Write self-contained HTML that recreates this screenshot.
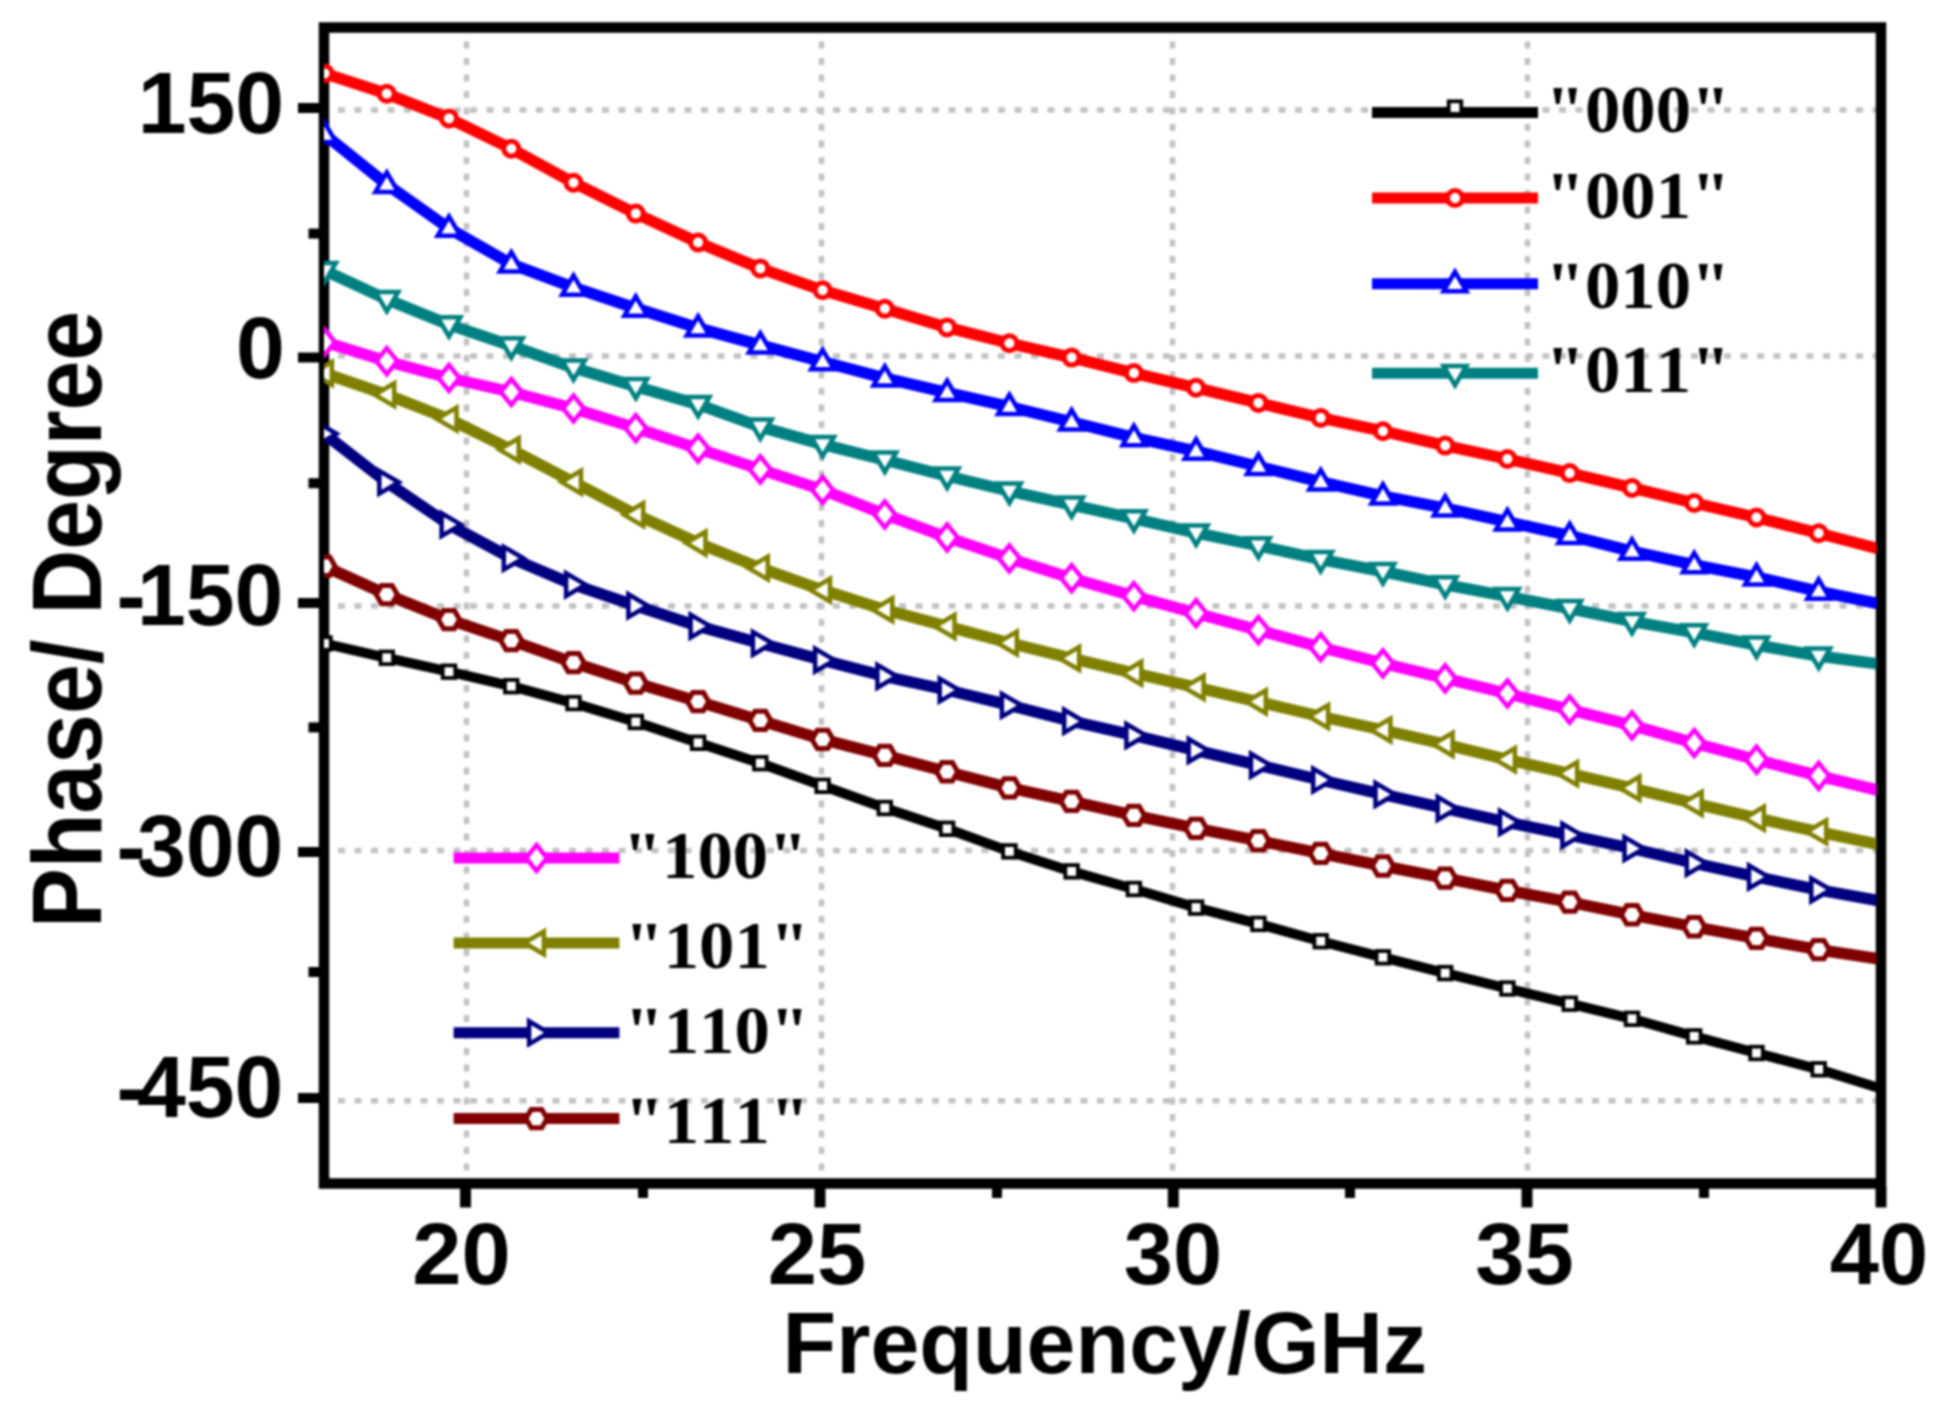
<!DOCTYPE html><html><head><meta charset="utf-8"><title>Phase vs Frequency</title>
<style>html,body{margin:0;padding:0;background:#fff;overflow:hidden}svg{display:block}text{font-weight:bold;fill:#000;font-kerning:none}</style></head><body>
<svg width="1950" height="1416" viewBox="0 0 1950 1416" style="filter:blur(1.3px)">
<rect x="0" y="0" width="1950" height="1416" fill="#fff"/>
<defs><clipPath id="cp"><rect x="324.0" y="27.5" width="1552.5" height="1156.0"/></clipPath></defs>
<g stroke="#c2c2c2" stroke-width="5.5" stroke-dasharray="7 9.5" fill="none">
<line x1="338.0" y1="110" x2="1877.0" y2="110"/>
<line x1="338.0" y1="356" x2="1877.0" y2="356"/>
<line x1="338.0" y1="606" x2="1877.0" y2="606"/>
<line x1="338.0" y1="850.5" x2="1877.0" y2="850.5"/>
<line x1="338.0" y1="1100.7" x2="1877.0" y2="1100.7"/>
<line x1="466.5" y1="41.5" x2="466.5" y2="1179.5"/>
<line x1="821.5" y1="41.5" x2="821.5" y2="1179.5"/>
<line x1="1172.5" y1="41.5" x2="1172.5" y2="1179.5"/>
<line x1="1527.5" y1="41.5" x2="1527.5" y2="1179.5"/>
</g>
<line x1="1372" y1="112.6" x2="1538" y2="112.6" stroke="#000000" stroke-width="11"/>
<rect x="1448.7" y="101.3" width="12.6" height="12.6" fill="#fff" stroke="#000000" stroke-width="3.8" stroke-linejoin="miter"/>
<line x1="1372" y1="198.1" x2="1538" y2="198.1" stroke="#ff0000" stroke-width="11"/>
<circle cx="1455.0" cy="198.1" r="7.5" fill="#fff" stroke="#ff0000" stroke-width="5" stroke-linejoin="miter"/>
<line x1="1372" y1="283.8" x2="1538" y2="283.8" stroke="#0000ff" stroke-width="11"/>
<polygon points="1455.0,271.8 1466.4,291.2 1443.6,291.2" fill="#fff" stroke="#0000ff" stroke-width="4.5" stroke-linejoin="miter"/>
<line x1="1372" y1="373.3" x2="1538" y2="373.3" stroke="#008080" stroke-width="11"/>
<polygon points="1455.0,385.3 1466.4,365.9 1443.6,365.9" fill="#fff" stroke="#008080" stroke-width="4.5" stroke-linejoin="miter"/>
<line x1="453.6" y1="858" x2="619.4" y2="858" stroke="#ff00ff" stroke-width="11"/>
<polygon points="536.5,845.0 547.0,858.0 536.5,871.0 526.0,858.0" fill="#fff" stroke="#ff00ff" stroke-width="4.5" stroke-linejoin="miter"/>
<line x1="453.6" y1="942.9" x2="619.4" y2="942.9" stroke="#808000" stroke-width="11"/>
<polygon points="524.5,942.9 543.9,931.5 543.9,954.3" fill="#fff" stroke="#808000" stroke-width="4.5" stroke-linejoin="miter"/>
<line x1="453.6" y1="1032.7" x2="619.4" y2="1032.7" stroke="#000080" stroke-width="11"/>
<polygon points="548.5,1032.7 529.1,1021.3 529.1,1044.1" fill="#fff" stroke="#000080" stroke-width="4.5" stroke-linejoin="miter"/>
<line x1="453.6" y1="1118.6" x2="619.4" y2="1118.6" stroke="#800000" stroke-width="11"/>
<polygon points="547.1,1118.6 541.8,1127.8 531.2,1127.8 525.9,1118.6 531.2,1109.4 541.8,1109.4" fill="#fff" stroke="#800000" stroke-width="5" stroke-linejoin="miter"/>
<rect x="324.0" y="27.5" width="1557.0" height="1156.0" fill="none" stroke="#000" stroke-width="10.5"/>
<g stroke="#000" fill="none">
<line x1="298" y1="108" x2="320" y2="108" stroke-width="10"/>
<line x1="298" y1="357.5" x2="320" y2="357.5" stroke-width="10"/>
<line x1="298" y1="603" x2="320" y2="603" stroke-width="10"/>
<line x1="298" y1="852" x2="320" y2="852" stroke-width="10"/>
<line x1="298" y1="1098" x2="320" y2="1098" stroke-width="10"/>
<line x1="308.5" y1="233.6" x2="320" y2="233.6" stroke-width="10"/>
<line x1="308.5" y1="483.2" x2="320" y2="483.2" stroke-width="10"/>
<line x1="308.5" y1="727.4" x2="320" y2="727.4" stroke-width="10"/>
<line x1="308.5" y1="972" x2="320" y2="972" stroke-width="10"/>
<line x1="465.5" y1="1187" x2="465.5" y2="1207.5" stroke-width="11"/>
<line x1="820" y1="1187" x2="820" y2="1207.5" stroke-width="11"/>
<line x1="1173.3" y1="1187" x2="1173.3" y2="1207.5" stroke-width="11"/>
<line x1="1527" y1="1187" x2="1527" y2="1207.5" stroke-width="11"/>
<line x1="1881" y1="1187" x2="1881" y2="1207.5" stroke-width="11"/>
<line x1="643" y1="1187" x2="643" y2="1198" stroke-width="10"/>
<line x1="997" y1="1187" x2="997" y2="1198" stroke-width="10"/>
<line x1="1350" y1="1187" x2="1350" y2="1198" stroke-width="10"/>
<line x1="1704" y1="1187" x2="1704" y2="1198" stroke-width="10"/>
</g>
<g clip-path="url(#cp)">
<polyline points="324.5,643.5 386.8,657.8 449.0,671.7 511.3,686.2 573.5,703.1 635.8,722.0 698.1,742.8 760.3,763.2 822.6,785.8 884.8,808.0 947.1,828.8 1009.4,851.4 1071.6,871.4 1133.9,889.0 1196.1,907.6 1258.4,923.9 1320.7,941.2 1382.9,957.3 1445.2,973.1 1507.4,988.5 1569.7,1003.7 1632.0,1018.8 1694.2,1036.4 1756.5,1053.0 1818.7,1069.3 1881.0,1088.6" fill="none" stroke="#000000" stroke-width="10.0" stroke-linejoin="round"/>
<rect x="318.2" y="637.2" width="12.6" height="12.6" fill="#fff" stroke="#000000" stroke-width="3.8" stroke-linejoin="miter"/>
<rect x="380.5" y="651.5" width="12.6" height="12.6" fill="#fff" stroke="#000000" stroke-width="3.8" stroke-linejoin="miter"/>
<rect x="442.7" y="665.4" width="12.6" height="12.6" fill="#fff" stroke="#000000" stroke-width="3.8" stroke-linejoin="miter"/>
<rect x="505.0" y="679.9" width="12.6" height="12.6" fill="#fff" stroke="#000000" stroke-width="3.8" stroke-linejoin="miter"/>
<rect x="567.2" y="696.8" width="12.6" height="12.6" fill="#fff" stroke="#000000" stroke-width="3.8" stroke-linejoin="miter"/>
<rect x="629.5" y="715.7" width="12.6" height="12.6" fill="#fff" stroke="#000000" stroke-width="3.8" stroke-linejoin="miter"/>
<rect x="691.8" y="736.5" width="12.6" height="12.6" fill="#fff" stroke="#000000" stroke-width="3.8" stroke-linejoin="miter"/>
<rect x="754.0" y="756.9" width="12.6" height="12.6" fill="#fff" stroke="#000000" stroke-width="3.8" stroke-linejoin="miter"/>
<rect x="816.3" y="779.5" width="12.6" height="12.6" fill="#fff" stroke="#000000" stroke-width="3.8" stroke-linejoin="miter"/>
<rect x="878.5" y="801.7" width="12.6" height="12.6" fill="#fff" stroke="#000000" stroke-width="3.8" stroke-linejoin="miter"/>
<rect x="940.8" y="822.5" width="12.6" height="12.6" fill="#fff" stroke="#000000" stroke-width="3.8" stroke-linejoin="miter"/>
<rect x="1003.1" y="845.1" width="12.6" height="12.6" fill="#fff" stroke="#000000" stroke-width="3.8" stroke-linejoin="miter"/>
<rect x="1065.3" y="865.1" width="12.6" height="12.6" fill="#fff" stroke="#000000" stroke-width="3.8" stroke-linejoin="miter"/>
<rect x="1127.6" y="882.7" width="12.6" height="12.6" fill="#fff" stroke="#000000" stroke-width="3.8" stroke-linejoin="miter"/>
<rect x="1189.8" y="901.3" width="12.6" height="12.6" fill="#fff" stroke="#000000" stroke-width="3.8" stroke-linejoin="miter"/>
<rect x="1252.1" y="917.6" width="12.6" height="12.6" fill="#fff" stroke="#000000" stroke-width="3.8" stroke-linejoin="miter"/>
<rect x="1314.4" y="934.9" width="12.6" height="12.6" fill="#fff" stroke="#000000" stroke-width="3.8" stroke-linejoin="miter"/>
<rect x="1376.6" y="951.0" width="12.6" height="12.6" fill="#fff" stroke="#000000" stroke-width="3.8" stroke-linejoin="miter"/>
<rect x="1438.9" y="966.8" width="12.6" height="12.6" fill="#fff" stroke="#000000" stroke-width="3.8" stroke-linejoin="miter"/>
<rect x="1501.1" y="982.2" width="12.6" height="12.6" fill="#fff" stroke="#000000" stroke-width="3.8" stroke-linejoin="miter"/>
<rect x="1563.4" y="997.4" width="12.6" height="12.6" fill="#fff" stroke="#000000" stroke-width="3.8" stroke-linejoin="miter"/>
<rect x="1625.7" y="1012.5" width="12.6" height="12.6" fill="#fff" stroke="#000000" stroke-width="3.8" stroke-linejoin="miter"/>
<rect x="1687.9" y="1030.1" width="12.6" height="12.6" fill="#fff" stroke="#000000" stroke-width="3.8" stroke-linejoin="miter"/>
<rect x="1750.2" y="1046.7" width="12.6" height="12.6" fill="#fff" stroke="#000000" stroke-width="3.8" stroke-linejoin="miter"/>
<rect x="1812.4" y="1063.0" width="12.6" height="12.6" fill="#fff" stroke="#000000" stroke-width="3.8" stroke-linejoin="miter"/>
<polyline points="324.5,73.4 386.8,93.8 449.0,118.4 511.3,148.7 573.5,182.7 635.8,213.6 698.1,242.5 760.3,268.4 822.6,290.3 884.8,308.8 947.1,327.4 1009.4,343.3 1071.6,357.6 1133.9,373.1 1196.1,387.8 1258.4,402.9 1320.7,417.9 1382.9,431.2 1445.2,445.6 1507.4,459.0 1569.7,473.1 1632.0,487.9 1694.2,503.0 1756.5,517.5 1818.7,533.3 1881.0,549.4" fill="none" stroke="#ff0000" stroke-width="11.5" stroke-linejoin="round"/>
<circle cx="324.5" cy="73.4" r="7.5" fill="#fff" stroke="#ff0000" stroke-width="5" stroke-linejoin="miter"/>
<circle cx="386.8" cy="93.8" r="7.5" fill="#fff" stroke="#ff0000" stroke-width="5" stroke-linejoin="miter"/>
<circle cx="449.0" cy="118.4" r="7.5" fill="#fff" stroke="#ff0000" stroke-width="5" stroke-linejoin="miter"/>
<circle cx="511.3" cy="148.7" r="7.5" fill="#fff" stroke="#ff0000" stroke-width="5" stroke-linejoin="miter"/>
<circle cx="573.5" cy="182.7" r="7.5" fill="#fff" stroke="#ff0000" stroke-width="5" stroke-linejoin="miter"/>
<circle cx="635.8" cy="213.6" r="7.5" fill="#fff" stroke="#ff0000" stroke-width="5" stroke-linejoin="miter"/>
<circle cx="698.1" cy="242.5" r="7.5" fill="#fff" stroke="#ff0000" stroke-width="5" stroke-linejoin="miter"/>
<circle cx="760.3" cy="268.4" r="7.5" fill="#fff" stroke="#ff0000" stroke-width="5" stroke-linejoin="miter"/>
<circle cx="822.6" cy="290.3" r="7.5" fill="#fff" stroke="#ff0000" stroke-width="5" stroke-linejoin="miter"/>
<circle cx="884.8" cy="308.8" r="7.5" fill="#fff" stroke="#ff0000" stroke-width="5" stroke-linejoin="miter"/>
<circle cx="947.1" cy="327.4" r="7.5" fill="#fff" stroke="#ff0000" stroke-width="5" stroke-linejoin="miter"/>
<circle cx="1009.4" cy="343.3" r="7.5" fill="#fff" stroke="#ff0000" stroke-width="5" stroke-linejoin="miter"/>
<circle cx="1071.6" cy="357.6" r="7.5" fill="#fff" stroke="#ff0000" stroke-width="5" stroke-linejoin="miter"/>
<circle cx="1133.9" cy="373.1" r="7.5" fill="#fff" stroke="#ff0000" stroke-width="5" stroke-linejoin="miter"/>
<circle cx="1196.1" cy="387.8" r="7.5" fill="#fff" stroke="#ff0000" stroke-width="5" stroke-linejoin="miter"/>
<circle cx="1258.4" cy="402.9" r="7.5" fill="#fff" stroke="#ff0000" stroke-width="5" stroke-linejoin="miter"/>
<circle cx="1320.7" cy="417.9" r="7.5" fill="#fff" stroke="#ff0000" stroke-width="5" stroke-linejoin="miter"/>
<circle cx="1382.9" cy="431.2" r="7.5" fill="#fff" stroke="#ff0000" stroke-width="5" stroke-linejoin="miter"/>
<circle cx="1445.2" cy="445.6" r="7.5" fill="#fff" stroke="#ff0000" stroke-width="5" stroke-linejoin="miter"/>
<circle cx="1507.4" cy="459.0" r="7.5" fill="#fff" stroke="#ff0000" stroke-width="5" stroke-linejoin="miter"/>
<circle cx="1569.7" cy="473.1" r="7.5" fill="#fff" stroke="#ff0000" stroke-width="5" stroke-linejoin="miter"/>
<circle cx="1632.0" cy="487.9" r="7.5" fill="#fff" stroke="#ff0000" stroke-width="5" stroke-linejoin="miter"/>
<circle cx="1694.2" cy="503.0" r="7.5" fill="#fff" stroke="#ff0000" stroke-width="5" stroke-linejoin="miter"/>
<circle cx="1756.5" cy="517.5" r="7.5" fill="#fff" stroke="#ff0000" stroke-width="5" stroke-linejoin="miter"/>
<circle cx="1818.7" cy="533.3" r="7.5" fill="#fff" stroke="#ff0000" stroke-width="5" stroke-linejoin="miter"/>
<polyline points="324.5,134.4 386.8,184.4 449.0,228.4 511.3,264.1 573.5,287.4 635.8,308.3 698.1,328.1 760.3,345.1 822.6,361.8 884.8,378.1 947.1,392.6 1009.4,406.7 1071.6,422.0 1133.9,437.7 1196.1,451.2 1258.4,466.5 1320.7,481.9 1382.9,496.2 1445.2,508.1 1507.4,521.9 1569.7,535.6 1632.0,551.3 1694.2,564.9 1756.5,577.2 1818.7,591.3 1881.0,604.1" fill="none" stroke="#0000ff" stroke-width="11.5" stroke-linejoin="round"/>
<polygon points="324.5,122.4 335.9,141.9 313.1,141.9" fill="#fff" stroke="#0000ff" stroke-width="4.5" stroke-linejoin="miter"/>
<polygon points="386.8,172.4 398.2,191.9 375.4,191.9" fill="#fff" stroke="#0000ff" stroke-width="4.5" stroke-linejoin="miter"/>
<polygon points="449.0,216.4 460.4,235.8 437.6,235.8" fill="#fff" stroke="#0000ff" stroke-width="4.5" stroke-linejoin="miter"/>
<polygon points="511.3,252.1 522.7,271.5 499.9,271.5" fill="#fff" stroke="#0000ff" stroke-width="4.5" stroke-linejoin="miter"/>
<polygon points="573.5,275.4 584.9,294.8 562.1,294.8" fill="#fff" stroke="#0000ff" stroke-width="4.5" stroke-linejoin="miter"/>
<polygon points="635.8,296.3 647.2,315.7 624.4,315.7" fill="#fff" stroke="#0000ff" stroke-width="4.5" stroke-linejoin="miter"/>
<polygon points="698.1,316.1 709.5,335.5 686.7,335.5" fill="#fff" stroke="#0000ff" stroke-width="4.5" stroke-linejoin="miter"/>
<polygon points="760.3,333.1 771.7,352.6 748.9,352.6" fill="#fff" stroke="#0000ff" stroke-width="4.5" stroke-linejoin="miter"/>
<polygon points="822.6,349.8 834.0,369.2 811.2,369.2" fill="#fff" stroke="#0000ff" stroke-width="4.5" stroke-linejoin="miter"/>
<polygon points="884.8,366.1 896.2,385.5 873.4,385.5" fill="#fff" stroke="#0000ff" stroke-width="4.5" stroke-linejoin="miter"/>
<polygon points="947.1,380.6 958.5,400.0 935.7,400.0" fill="#fff" stroke="#0000ff" stroke-width="4.5" stroke-linejoin="miter"/>
<polygon points="1009.4,394.7 1020.8,414.1 998.0,414.1" fill="#fff" stroke="#0000ff" stroke-width="4.5" stroke-linejoin="miter"/>
<polygon points="1071.6,410.0 1083.0,429.4 1060.2,429.4" fill="#fff" stroke="#0000ff" stroke-width="4.5" stroke-linejoin="miter"/>
<polygon points="1133.9,425.7 1145.3,445.2 1122.5,445.2" fill="#fff" stroke="#0000ff" stroke-width="4.5" stroke-linejoin="miter"/>
<polygon points="1196.1,439.2 1207.5,458.7 1184.7,458.7" fill="#fff" stroke="#0000ff" stroke-width="4.5" stroke-linejoin="miter"/>
<polygon points="1258.4,454.5 1269.8,473.9 1247.0,473.9" fill="#fff" stroke="#0000ff" stroke-width="4.5" stroke-linejoin="miter"/>
<polygon points="1320.7,469.9 1332.1,489.4 1309.3,489.4" fill="#fff" stroke="#0000ff" stroke-width="4.5" stroke-linejoin="miter"/>
<polygon points="1382.9,484.2 1394.3,503.6 1371.5,503.6" fill="#fff" stroke="#0000ff" stroke-width="4.5" stroke-linejoin="miter"/>
<polygon points="1445.2,496.1 1456.6,515.6 1433.8,515.6" fill="#fff" stroke="#0000ff" stroke-width="4.5" stroke-linejoin="miter"/>
<polygon points="1507.4,509.9 1518.8,529.4 1496.0,529.4" fill="#fff" stroke="#0000ff" stroke-width="4.5" stroke-linejoin="miter"/>
<polygon points="1569.7,523.6 1581.1,543.1 1558.3,543.1" fill="#fff" stroke="#0000ff" stroke-width="4.5" stroke-linejoin="miter"/>
<polygon points="1632.0,539.3 1643.4,558.7 1620.6,558.7" fill="#fff" stroke="#0000ff" stroke-width="4.5" stroke-linejoin="miter"/>
<polygon points="1694.2,552.9 1705.6,572.3 1682.8,572.3" fill="#fff" stroke="#0000ff" stroke-width="4.5" stroke-linejoin="miter"/>
<polygon points="1756.5,565.2 1767.9,584.6 1745.1,584.6" fill="#fff" stroke="#0000ff" stroke-width="4.5" stroke-linejoin="miter"/>
<polygon points="1818.7,579.3 1830.1,598.7 1807.3,598.7" fill="#fff" stroke="#0000ff" stroke-width="4.5" stroke-linejoin="miter"/>
<polyline points="324.5,270.4 386.8,299.4 449.0,324.6 511.3,345.7 573.5,367.8 635.8,386.4 698.1,404.4 760.3,426.9 822.6,444.4 884.8,460.0 947.1,476.0 1009.4,491.0 1071.6,504.9 1133.9,518.6 1196.1,532.8 1258.4,545.6 1320.7,559.4 1382.9,571.5 1445.2,584.6 1507.4,596.4 1569.7,608.5 1632.0,621.3 1694.2,632.6 1756.5,645.0 1818.7,656.0 1881.0,664.3" fill="none" stroke="#008080" stroke-width="11.5" stroke-linejoin="round"/>
<polygon points="324.5,282.4 335.9,262.9 313.1,262.9" fill="#fff" stroke="#008080" stroke-width="4.5" stroke-linejoin="miter"/>
<polygon points="386.8,311.4 398.2,292.0 375.4,292.0" fill="#fff" stroke="#008080" stroke-width="4.5" stroke-linejoin="miter"/>
<polygon points="449.0,336.6 460.4,317.2 437.6,317.2" fill="#fff" stroke="#008080" stroke-width="4.5" stroke-linejoin="miter"/>
<polygon points="511.3,357.7 522.7,338.3 499.9,338.3" fill="#fff" stroke="#008080" stroke-width="4.5" stroke-linejoin="miter"/>
<polygon points="573.5,379.8 584.9,360.4 562.1,360.4" fill="#fff" stroke="#008080" stroke-width="4.5" stroke-linejoin="miter"/>
<polygon points="635.8,398.4 647.2,379.0 624.4,379.0" fill="#fff" stroke="#008080" stroke-width="4.5" stroke-linejoin="miter"/>
<polygon points="698.1,416.4 709.5,397.0 686.7,397.0" fill="#fff" stroke="#008080" stroke-width="4.5" stroke-linejoin="miter"/>
<polygon points="760.3,438.9 771.7,419.5 748.9,419.5" fill="#fff" stroke="#008080" stroke-width="4.5" stroke-linejoin="miter"/>
<polygon points="822.6,456.4 834.0,436.9 811.2,436.9" fill="#fff" stroke="#008080" stroke-width="4.5" stroke-linejoin="miter"/>
<polygon points="884.8,472.0 896.2,452.6 873.4,452.6" fill="#fff" stroke="#008080" stroke-width="4.5" stroke-linejoin="miter"/>
<polygon points="947.1,488.0 958.5,468.5 935.7,468.5" fill="#fff" stroke="#008080" stroke-width="4.5" stroke-linejoin="miter"/>
<polygon points="1009.4,503.0 1020.8,483.5 998.0,483.5" fill="#fff" stroke="#008080" stroke-width="4.5" stroke-linejoin="miter"/>
<polygon points="1071.6,516.9 1083.0,497.5 1060.2,497.5" fill="#fff" stroke="#008080" stroke-width="4.5" stroke-linejoin="miter"/>
<polygon points="1133.9,530.6 1145.3,511.2 1122.5,511.2" fill="#fff" stroke="#008080" stroke-width="4.5" stroke-linejoin="miter"/>
<polygon points="1196.1,544.8 1207.5,525.4 1184.7,525.4" fill="#fff" stroke="#008080" stroke-width="4.5" stroke-linejoin="miter"/>
<polygon points="1258.4,557.6 1269.8,538.2 1247.0,538.2" fill="#fff" stroke="#008080" stroke-width="4.5" stroke-linejoin="miter"/>
<polygon points="1320.7,571.4 1332.1,551.9 1309.3,551.9" fill="#fff" stroke="#008080" stroke-width="4.5" stroke-linejoin="miter"/>
<polygon points="1382.9,583.5 1394.3,564.1 1371.5,564.1" fill="#fff" stroke="#008080" stroke-width="4.5" stroke-linejoin="miter"/>
<polygon points="1445.2,596.6 1456.6,577.2 1433.8,577.2" fill="#fff" stroke="#008080" stroke-width="4.5" stroke-linejoin="miter"/>
<polygon points="1507.4,608.4 1518.8,589.0 1496.0,589.0" fill="#fff" stroke="#008080" stroke-width="4.5" stroke-linejoin="miter"/>
<polygon points="1569.7,620.5 1581.1,601.1 1558.3,601.1" fill="#fff" stroke="#008080" stroke-width="4.5" stroke-linejoin="miter"/>
<polygon points="1632.0,633.3 1643.4,613.9 1620.6,613.9" fill="#fff" stroke="#008080" stroke-width="4.5" stroke-linejoin="miter"/>
<polygon points="1694.2,644.6 1705.6,625.2 1682.8,625.2" fill="#fff" stroke="#008080" stroke-width="4.5" stroke-linejoin="miter"/>
<polygon points="1756.5,657.0 1767.9,637.6 1745.1,637.6" fill="#fff" stroke="#008080" stroke-width="4.5" stroke-linejoin="miter"/>
<polygon points="1818.7,668.0 1830.1,648.6 1807.3,648.6" fill="#fff" stroke="#008080" stroke-width="4.5" stroke-linejoin="miter"/>
<polyline points="324.5,342.0 386.8,361.2 449.0,378.0 511.3,392.0 573.5,408.5 635.8,428.1 698.1,448.6 760.3,469.4 822.6,489.9 884.8,514.4 947.1,537.4 1009.4,558.4 1071.6,578.2 1133.9,596.1 1196.1,613.2 1258.4,630.1 1320.7,647.2 1382.9,663.3 1445.2,678.3 1507.4,693.5 1569.7,709.6 1632.0,725.4 1694.2,743.0 1756.5,759.7 1818.7,775.9 1881.0,791.0" fill="none" stroke="#ff00ff" stroke-width="11.5" stroke-linejoin="round"/>
<polygon points="324.5,329.0 335.0,342.0 324.5,355.0 314.0,342.0" fill="#fff" stroke="#ff00ff" stroke-width="4.5" stroke-linejoin="miter"/>
<polygon points="386.8,348.2 397.3,361.2 386.8,374.2 376.3,361.2" fill="#fff" stroke="#ff00ff" stroke-width="4.5" stroke-linejoin="miter"/>
<polygon points="449.0,365.0 459.5,378.0 449.0,391.0 438.5,378.0" fill="#fff" stroke="#ff00ff" stroke-width="4.5" stroke-linejoin="miter"/>
<polygon points="511.3,379.0 521.8,392.0 511.3,405.0 500.8,392.0" fill="#fff" stroke="#ff00ff" stroke-width="4.5" stroke-linejoin="miter"/>
<polygon points="573.5,395.5 584.0,408.5 573.5,421.5 563.0,408.5" fill="#fff" stroke="#ff00ff" stroke-width="4.5" stroke-linejoin="miter"/>
<polygon points="635.8,415.1 646.3,428.1 635.8,441.1 625.3,428.1" fill="#fff" stroke="#ff00ff" stroke-width="4.5" stroke-linejoin="miter"/>
<polygon points="698.1,435.6 708.6,448.6 698.1,461.6 687.6,448.6" fill="#fff" stroke="#ff00ff" stroke-width="4.5" stroke-linejoin="miter"/>
<polygon points="760.3,456.4 770.8,469.4 760.3,482.4 749.8,469.4" fill="#fff" stroke="#ff00ff" stroke-width="4.5" stroke-linejoin="miter"/>
<polygon points="822.6,476.9 833.1,489.9 822.6,502.9 812.1,489.9" fill="#fff" stroke="#ff00ff" stroke-width="4.5" stroke-linejoin="miter"/>
<polygon points="884.8,501.4 895.3,514.4 884.8,527.4 874.3,514.4" fill="#fff" stroke="#ff00ff" stroke-width="4.5" stroke-linejoin="miter"/>
<polygon points="947.1,524.4 957.6,537.4 947.1,550.4 936.6,537.4" fill="#fff" stroke="#ff00ff" stroke-width="4.5" stroke-linejoin="miter"/>
<polygon points="1009.4,545.4 1019.9,558.4 1009.4,571.4 998.9,558.4" fill="#fff" stroke="#ff00ff" stroke-width="4.5" stroke-linejoin="miter"/>
<polygon points="1071.6,565.2 1082.1,578.2 1071.6,591.2 1061.1,578.2" fill="#fff" stroke="#ff00ff" stroke-width="4.5" stroke-linejoin="miter"/>
<polygon points="1133.9,583.1 1144.4,596.1 1133.9,609.1 1123.4,596.1" fill="#fff" stroke="#ff00ff" stroke-width="4.5" stroke-linejoin="miter"/>
<polygon points="1196.1,600.2 1206.6,613.2 1196.1,626.2 1185.6,613.2" fill="#fff" stroke="#ff00ff" stroke-width="4.5" stroke-linejoin="miter"/>
<polygon points="1258.4,617.1 1268.9,630.1 1258.4,643.1 1247.9,630.1" fill="#fff" stroke="#ff00ff" stroke-width="4.5" stroke-linejoin="miter"/>
<polygon points="1320.7,634.2 1331.2,647.2 1320.7,660.2 1310.2,647.2" fill="#fff" stroke="#ff00ff" stroke-width="4.5" stroke-linejoin="miter"/>
<polygon points="1382.9,650.3 1393.4,663.3 1382.9,676.3 1372.4,663.3" fill="#fff" stroke="#ff00ff" stroke-width="4.5" stroke-linejoin="miter"/>
<polygon points="1445.2,665.3 1455.7,678.3 1445.2,691.3 1434.7,678.3" fill="#fff" stroke="#ff00ff" stroke-width="4.5" stroke-linejoin="miter"/>
<polygon points="1507.4,680.5 1517.9,693.5 1507.4,706.5 1496.9,693.5" fill="#fff" stroke="#ff00ff" stroke-width="4.5" stroke-linejoin="miter"/>
<polygon points="1569.7,696.6 1580.2,709.6 1569.7,722.6 1559.2,709.6" fill="#fff" stroke="#ff00ff" stroke-width="4.5" stroke-linejoin="miter"/>
<polygon points="1632.0,712.4 1642.5,725.4 1632.0,738.4 1621.5,725.4" fill="#fff" stroke="#ff00ff" stroke-width="4.5" stroke-linejoin="miter"/>
<polygon points="1694.2,730.0 1704.7,743.0 1694.2,756.0 1683.7,743.0" fill="#fff" stroke="#ff00ff" stroke-width="4.5" stroke-linejoin="miter"/>
<polygon points="1756.5,746.7 1767.0,759.7 1756.5,772.7 1746.0,759.7" fill="#fff" stroke="#ff00ff" stroke-width="4.5" stroke-linejoin="miter"/>
<polygon points="1818.7,762.9 1829.2,775.9 1818.7,788.9 1808.2,775.9" fill="#fff" stroke="#ff00ff" stroke-width="4.5" stroke-linejoin="miter"/>
<polyline points="324.5,373.3 386.8,394.7 449.0,419.0 511.3,449.6 573.5,482.1 635.8,514.6 698.1,543.1 760.3,568.0 822.6,590.1 884.8,609.7 947.1,626.4 1009.4,643.0 1071.6,658.4 1133.9,673.2 1196.1,687.4 1258.4,701.8 1320.7,716.5 1382.9,730.0 1445.2,744.3 1507.4,759.6 1569.7,773.6 1632.0,788.2 1694.2,803.4 1756.5,818.2 1818.7,831.8 1881.0,845.0" fill="none" stroke="#808000" stroke-width="11.5" stroke-linejoin="round"/>
<polygon points="312.5,373.3 331.9,361.9 331.9,384.7" fill="#fff" stroke="#808000" stroke-width="4.5" stroke-linejoin="miter"/>
<polygon points="374.8,394.7 394.2,383.3 394.2,406.1" fill="#fff" stroke="#808000" stroke-width="4.5" stroke-linejoin="miter"/>
<polygon points="437.0,419.0 456.5,407.6 456.5,430.4" fill="#fff" stroke="#808000" stroke-width="4.5" stroke-linejoin="miter"/>
<polygon points="499.3,449.6 518.7,438.2 518.7,461.0" fill="#fff" stroke="#808000" stroke-width="4.5" stroke-linejoin="miter"/>
<polygon points="561.5,482.1 581.0,470.7 581.0,493.5" fill="#fff" stroke="#808000" stroke-width="4.5" stroke-linejoin="miter"/>
<polygon points="623.8,514.6 643.2,503.2 643.2,526.0" fill="#fff" stroke="#808000" stroke-width="4.5" stroke-linejoin="miter"/>
<polygon points="686.1,543.1 705.5,531.7 705.5,554.5" fill="#fff" stroke="#808000" stroke-width="4.5" stroke-linejoin="miter"/>
<polygon points="748.3,568.0 767.8,556.6 767.8,579.4" fill="#fff" stroke="#808000" stroke-width="4.5" stroke-linejoin="miter"/>
<polygon points="810.6,590.1 830.0,578.7 830.0,601.5" fill="#fff" stroke="#808000" stroke-width="4.5" stroke-linejoin="miter"/>
<polygon points="872.8,609.7 892.3,598.3 892.3,621.1" fill="#fff" stroke="#808000" stroke-width="4.5" stroke-linejoin="miter"/>
<polygon points="935.1,626.4 954.5,615.0 954.5,637.8" fill="#fff" stroke="#808000" stroke-width="4.5" stroke-linejoin="miter"/>
<polygon points="997.4,643.0 1016.8,631.6 1016.8,654.4" fill="#fff" stroke="#808000" stroke-width="4.5" stroke-linejoin="miter"/>
<polygon points="1059.6,658.4 1079.1,647.0 1079.1,669.8" fill="#fff" stroke="#808000" stroke-width="4.5" stroke-linejoin="miter"/>
<polygon points="1121.9,673.2 1141.3,661.8 1141.3,684.6" fill="#fff" stroke="#808000" stroke-width="4.5" stroke-linejoin="miter"/>
<polygon points="1184.1,687.4 1203.6,676.0 1203.6,698.8" fill="#fff" stroke="#808000" stroke-width="4.5" stroke-linejoin="miter"/>
<polygon points="1246.4,701.8 1265.8,690.4 1265.8,713.2" fill="#fff" stroke="#808000" stroke-width="4.5" stroke-linejoin="miter"/>
<polygon points="1308.7,716.5 1328.1,705.1 1328.1,727.9" fill="#fff" stroke="#808000" stroke-width="4.5" stroke-linejoin="miter"/>
<polygon points="1370.9,730.0 1390.4,718.6 1390.4,741.4" fill="#fff" stroke="#808000" stroke-width="4.5" stroke-linejoin="miter"/>
<polygon points="1433.2,744.3 1452.6,732.9 1452.6,755.7" fill="#fff" stroke="#808000" stroke-width="4.5" stroke-linejoin="miter"/>
<polygon points="1495.4,759.6 1514.9,748.2 1514.9,771.0" fill="#fff" stroke="#808000" stroke-width="4.5" stroke-linejoin="miter"/>
<polygon points="1557.7,773.6 1577.1,762.2 1577.1,785.0" fill="#fff" stroke="#808000" stroke-width="4.5" stroke-linejoin="miter"/>
<polygon points="1620.0,788.2 1639.4,776.8 1639.4,799.6" fill="#fff" stroke="#808000" stroke-width="4.5" stroke-linejoin="miter"/>
<polygon points="1682.2,803.4 1701.7,792.0 1701.7,814.8" fill="#fff" stroke="#808000" stroke-width="4.5" stroke-linejoin="miter"/>
<polygon points="1744.5,818.2 1763.9,806.8 1763.9,829.6" fill="#fff" stroke="#808000" stroke-width="4.5" stroke-linejoin="miter"/>
<polygon points="1806.7,831.8 1826.2,820.4 1826.2,843.2" fill="#fff" stroke="#808000" stroke-width="4.5" stroke-linejoin="miter"/>
<polyline points="324.5,433.8 386.8,482.2 449.0,524.6 511.3,558.2 573.5,584.6 635.8,605.7 698.1,626.1 760.3,643.3 822.6,660.1 884.8,676.3 947.1,690.0 1009.4,705.2 1071.6,721.2 1133.9,735.4 1196.1,750.4 1258.4,765.1 1320.7,780.0 1382.9,794.4 1445.2,808.4 1507.4,822.3 1569.7,835.1 1632.0,848.5 1694.2,863.1 1756.5,876.9 1818.7,889.8 1881.0,901.1" fill="none" stroke="#000080" stroke-width="11.5" stroke-linejoin="round"/>
<polygon points="336.5,433.8 317.1,422.4 317.1,445.2" fill="#fff" stroke="#000080" stroke-width="4.5" stroke-linejoin="miter"/>
<polygon points="398.8,482.2 379.3,470.8 379.3,493.6" fill="#fff" stroke="#000080" stroke-width="4.5" stroke-linejoin="miter"/>
<polygon points="461.0,524.6 441.6,513.2 441.6,536.0" fill="#fff" stroke="#000080" stroke-width="4.5" stroke-linejoin="miter"/>
<polygon points="523.3,558.2 503.8,546.8 503.8,569.6" fill="#fff" stroke="#000080" stroke-width="4.5" stroke-linejoin="miter"/>
<polygon points="585.5,584.6 566.1,573.2 566.1,596.0" fill="#fff" stroke="#000080" stroke-width="4.5" stroke-linejoin="miter"/>
<polygon points="647.8,605.7 628.4,594.3 628.4,617.1" fill="#fff" stroke="#000080" stroke-width="4.5" stroke-linejoin="miter"/>
<polygon points="710.1,626.1 690.6,614.7 690.6,637.5" fill="#fff" stroke="#000080" stroke-width="4.5" stroke-linejoin="miter"/>
<polygon points="772.3,643.3 752.9,631.9 752.9,654.7" fill="#fff" stroke="#000080" stroke-width="4.5" stroke-linejoin="miter"/>
<polygon points="834.6,660.1 815.1,648.7 815.1,671.5" fill="#fff" stroke="#000080" stroke-width="4.5" stroke-linejoin="miter"/>
<polygon points="896.8,676.3 877.4,664.9 877.4,687.7" fill="#fff" stroke="#000080" stroke-width="4.5" stroke-linejoin="miter"/>
<polygon points="959.1,690.0 939.7,678.6 939.7,701.4" fill="#fff" stroke="#000080" stroke-width="4.5" stroke-linejoin="miter"/>
<polygon points="1021.4,705.2 1001.9,693.8 1001.9,716.6" fill="#fff" stroke="#000080" stroke-width="4.5" stroke-linejoin="miter"/>
<polygon points="1083.6,721.2 1064.2,709.8 1064.2,732.6" fill="#fff" stroke="#000080" stroke-width="4.5" stroke-linejoin="miter"/>
<polygon points="1145.9,735.4 1126.4,724.0 1126.4,746.8" fill="#fff" stroke="#000080" stroke-width="4.5" stroke-linejoin="miter"/>
<polygon points="1208.1,750.4 1188.7,739.0 1188.7,761.8" fill="#fff" stroke="#000080" stroke-width="4.5" stroke-linejoin="miter"/>
<polygon points="1270.4,765.1 1251.0,753.7 1251.0,776.5" fill="#fff" stroke="#000080" stroke-width="4.5" stroke-linejoin="miter"/>
<polygon points="1332.7,780.0 1313.2,768.6 1313.2,791.4" fill="#fff" stroke="#000080" stroke-width="4.5" stroke-linejoin="miter"/>
<polygon points="1394.9,794.4 1375.5,783.0 1375.5,805.8" fill="#fff" stroke="#000080" stroke-width="4.5" stroke-linejoin="miter"/>
<polygon points="1457.2,808.4 1437.7,797.0 1437.7,819.8" fill="#fff" stroke="#000080" stroke-width="4.5" stroke-linejoin="miter"/>
<polygon points="1519.4,822.3 1500.0,810.9 1500.0,833.7" fill="#fff" stroke="#000080" stroke-width="4.5" stroke-linejoin="miter"/>
<polygon points="1581.7,835.1 1562.3,823.7 1562.3,846.5" fill="#fff" stroke="#000080" stroke-width="4.5" stroke-linejoin="miter"/>
<polygon points="1644.0,848.5 1624.5,837.1 1624.5,859.9" fill="#fff" stroke="#000080" stroke-width="4.5" stroke-linejoin="miter"/>
<polygon points="1706.2,863.1 1686.8,851.7 1686.8,874.5" fill="#fff" stroke="#000080" stroke-width="4.5" stroke-linejoin="miter"/>
<polygon points="1768.5,876.9 1749.0,865.5 1749.0,888.3" fill="#fff" stroke="#000080" stroke-width="4.5" stroke-linejoin="miter"/>
<polygon points="1830.7,889.8 1811.3,878.4 1811.3,901.2" fill="#fff" stroke="#000080" stroke-width="4.5" stroke-linejoin="miter"/>
<polyline points="324.5,566.3 386.8,594.6 449.0,619.6 511.3,640.6 573.5,662.7 635.8,683.0 698.1,701.6 760.3,720.4 822.6,739.4 884.8,755.4 947.1,771.8 1009.4,787.9 1071.6,801.4 1133.9,815.4 1196.1,828.4 1258.4,840.7 1320.7,853.4 1382.9,866.0 1445.2,878.1 1507.4,890.5 1569.7,902.1 1632.0,914.8 1694.2,926.8 1756.5,938.4 1818.7,949.7 1881.0,959.2" fill="none" stroke="#800000" stroke-width="11.5" stroke-linejoin="round"/>
<polygon points="335.1,566.3 329.8,575.5 319.2,575.5 313.9,566.3 319.2,557.1 329.8,557.1" fill="#fff" stroke="#800000" stroke-width="5" stroke-linejoin="miter"/>
<polygon points="397.4,594.6 392.1,603.7 381.5,603.7 376.2,594.6 381.5,585.4 392.1,585.4" fill="#fff" stroke="#800000" stroke-width="5" stroke-linejoin="miter"/>
<polygon points="459.6,619.6 454.3,628.8 443.7,628.8 438.4,619.6 443.7,610.4 454.3,610.4" fill="#fff" stroke="#800000" stroke-width="5" stroke-linejoin="miter"/>
<polygon points="521.9,640.6 516.6,649.8 506.0,649.8 500.7,640.6 506.0,631.4 516.6,631.4" fill="#fff" stroke="#800000" stroke-width="5" stroke-linejoin="miter"/>
<polygon points="584.1,662.7 578.8,671.8 568.2,671.8 562.9,662.7 568.2,653.5 578.8,653.5" fill="#fff" stroke="#800000" stroke-width="5" stroke-linejoin="miter"/>
<polygon points="646.4,683.0 641.1,692.2 630.5,692.2 625.2,683.0 630.5,673.9 641.1,673.9" fill="#fff" stroke="#800000" stroke-width="5" stroke-linejoin="miter"/>
<polygon points="708.7,701.6 703.4,710.8 692.8,710.8 687.5,701.6 692.8,692.5 703.4,692.5" fill="#fff" stroke="#800000" stroke-width="5" stroke-linejoin="miter"/>
<polygon points="770.9,720.4 765.6,729.6 755.0,729.6 749.7,720.4 755.0,711.2 765.6,711.2" fill="#fff" stroke="#800000" stroke-width="5" stroke-linejoin="miter"/>
<polygon points="833.2,739.4 827.9,748.6 817.3,748.6 812.0,739.4 817.3,730.2 827.9,730.2" fill="#fff" stroke="#800000" stroke-width="5" stroke-linejoin="miter"/>
<polygon points="895.4,755.4 890.1,764.5 879.5,764.5 874.2,755.4 879.5,746.2 890.1,746.2" fill="#fff" stroke="#800000" stroke-width="5" stroke-linejoin="miter"/>
<polygon points="957.7,771.8 952.4,781.0 941.8,781.0 936.5,771.8 941.8,762.6 952.4,762.6" fill="#fff" stroke="#800000" stroke-width="5" stroke-linejoin="miter"/>
<polygon points="1020.0,787.9 1014.7,797.1 1004.1,797.1 998.8,787.9 1004.1,778.7 1014.7,778.7" fill="#fff" stroke="#800000" stroke-width="5" stroke-linejoin="miter"/>
<polygon points="1082.2,801.4 1076.9,810.6 1066.3,810.6 1061.0,801.4 1066.3,792.2 1076.9,792.2" fill="#fff" stroke="#800000" stroke-width="5" stroke-linejoin="miter"/>
<polygon points="1144.5,815.4 1139.2,824.6 1128.6,824.6 1123.3,815.4 1128.6,806.3 1139.2,806.3" fill="#fff" stroke="#800000" stroke-width="5" stroke-linejoin="miter"/>
<polygon points="1206.7,828.4 1201.4,837.5 1190.8,837.5 1185.5,828.4 1190.8,819.2 1201.4,819.2" fill="#fff" stroke="#800000" stroke-width="5" stroke-linejoin="miter"/>
<polygon points="1269.0,840.7 1263.7,849.9 1253.1,849.9 1247.8,840.7 1253.1,831.5 1263.7,831.5" fill="#fff" stroke="#800000" stroke-width="5" stroke-linejoin="miter"/>
<polygon points="1331.3,853.4 1326.0,862.6 1315.4,862.6 1310.1,853.4 1315.4,844.2 1326.0,844.2" fill="#fff" stroke="#800000" stroke-width="5" stroke-linejoin="miter"/>
<polygon points="1393.5,866.0 1388.2,875.2 1377.6,875.2 1372.3,866.0 1377.6,856.8 1388.2,856.8" fill="#fff" stroke="#800000" stroke-width="5" stroke-linejoin="miter"/>
<polygon points="1455.8,878.1 1450.5,887.2 1439.9,887.2 1434.6,878.1 1439.9,868.9 1450.5,868.9" fill="#fff" stroke="#800000" stroke-width="5" stroke-linejoin="miter"/>
<polygon points="1518.0,890.5 1512.7,899.6 1502.1,899.6 1496.8,890.5 1502.1,881.3 1512.7,881.3" fill="#fff" stroke="#800000" stroke-width="5" stroke-linejoin="miter"/>
<polygon points="1580.3,902.1 1575.0,911.2 1564.4,911.2 1559.1,902.1 1564.4,892.9 1575.0,892.9" fill="#fff" stroke="#800000" stroke-width="5" stroke-linejoin="miter"/>
<polygon points="1642.6,914.8 1637.3,923.9 1626.7,923.9 1621.4,914.8 1626.7,905.6 1637.3,905.6" fill="#fff" stroke="#800000" stroke-width="5" stroke-linejoin="miter"/>
<polygon points="1704.8,926.8 1699.5,935.9 1688.9,935.9 1683.6,926.8 1688.9,917.6 1699.5,917.6" fill="#fff" stroke="#800000" stroke-width="5" stroke-linejoin="miter"/>
<polygon points="1767.1,938.4 1761.8,947.6 1751.2,947.6 1745.9,938.4 1751.2,929.2 1761.8,929.2" fill="#fff" stroke="#800000" stroke-width="5" stroke-linejoin="miter"/>
<polygon points="1829.3,949.7 1824.0,958.8 1813.4,958.8 1808.1,949.7 1813.4,940.5 1824.0,940.5" fill="#fff" stroke="#800000" stroke-width="5" stroke-linejoin="miter"/>
</g>
<text id="t150" transform="translate(137.69,133.28) scale(0.8780,0.8720)" font-family="'Liberation Sans', sans-serif" font-size="100">150</text>
<text id="t0" transform="translate(236.02,378.08) scale(0.8780,0.8720)" font-family="'Liberation Sans', sans-serif" font-size="100">0</text>
<text id="tm150" transform="translate(136.89,624.58) scale(0.8780,0.8720)" x="-23.20 0" font-family="'Liberation Sans', sans-serif" font-size="100">-150</text>
<text id="tm300" transform="translate(136.89,876.28) scale(0.8780,0.8720)" x="-23.20 0" font-family="'Liberation Sans', sans-serif" font-size="100">-300</text>
<text id="tm450" transform="translate(136.89,1117.38) scale(0.8780,0.8720)" x="-23.20 0" font-family="'Liberation Sans', sans-serif" font-size="100">-450</text>
<text id="x20" transform="translate(412.32,1283.88) scale(0.8850,0.8720)" font-family="'Liberation Sans', sans-serif" font-size="100">20</text>
<text id="x25" transform="translate(767.78,1283.88) scale(0.8850,0.8720)" font-family="'Liberation Sans', sans-serif" font-size="100">25</text>
<text id="x30" transform="translate(1123.77,1284.08) scale(0.8850,0.8720)" font-family="'Liberation Sans', sans-serif" font-size="100">30</text>
<text id="x35" transform="translate(1475.33,1284.08) scale(0.8850,0.8720)" font-family="'Liberation Sans', sans-serif" font-size="100">35</text>
<text id="x40" transform="translate(1829.77,1284.08) scale(0.8850,0.8720)" font-family="'Liberation Sans', sans-serif" font-size="100">40</text>
<text id="xt" transform="translate(782.55,1373.34) scale(0.8787,0.8649)" font-family="'Liberation Sans', sans-serif" font-size="100">Frequency/GHz</text>
<text id="yt" transform="translate(101.00,928.07) rotate(-90) scale(0.8956,0.9904)" font-family="'Liberation Sans', sans-serif" font-size="100">Phase/ Degree</text>
<text id="l000" transform="translate(1545.61,132.45) scale(0.7080,0.6750)" font-family="'Liberation Serif', serif" font-size="100">&quot;000&quot;</text>
<text id="l001" transform="translate(1545.61,217.70) scale(0.7080,0.6750)" font-family="'Liberation Serif', serif" font-size="100">&quot;001&quot;</text>
<text id="l010" transform="translate(1545.61,307.90) scale(0.7080,0.6750)" font-family="'Liberation Serif', serif" font-size="100">&quot;010&quot;</text>
<text id="l011" transform="translate(1545.61,391.80) scale(0.7080,0.6750)" font-family="'Liberation Serif', serif" font-size="100">&quot;011&quot;</text>
<text id="l100" transform="translate(622.71,877.50) scale(0.7080,0.6750)" font-family="'Liberation Serif', serif" font-size="100">&quot;100&quot;</text>
<text id="l101" transform="translate(624.41,967.60) scale(0.7080,0.6750)" font-family="'Liberation Serif', serif" font-size="100">&quot;101&quot;</text>
<text id="l110" transform="translate(624.41,1053.10) scale(0.7080,0.6750)" font-family="'Liberation Serif', serif" font-size="100">&quot;110&quot;</text>
<text id="l111" transform="translate(624.41,1142.60) scale(0.7080,0.6750)" font-family="'Liberation Serif', serif" font-size="100">&quot;111&quot;</text>
</svg></body></html>
